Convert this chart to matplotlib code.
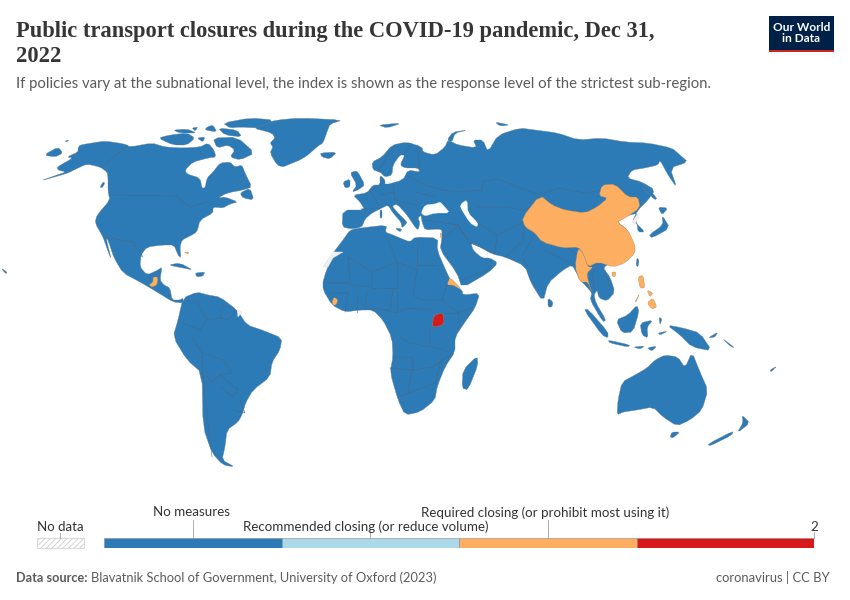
import matplotlib
matplotlib.use('Agg')
import matplotlib.pyplot as plt

plt.rcParams['font.family'] = ['Lato', 'DejaVu Sans']
plt.rcParams['hatch.linewidth'] = 0.6

# Legend
legend_labels = ['No measures', 'Recommended closing (or reduce volume)',
                 'Required closing (or prohibit most using it)', '2']
legend_colors = ['#2c7bb6', '#abd9e9', '#fdae61', '#d7191c']
legend_edges = [0, 1, 2, 3, 4]

# Outlines (x, y on the 850x600 canvas)
north_america = [(40,181),(57,175),(66,172),(58,170),(57,167),(73,158),(67,157),(78,152),(78,148),(80,145),(92,143),
    (105,141),(125,144),(130,147),(152,143),(165,147),(183,148),(200,147),(208,143),(214,150),(216,157),
    (208,158),(193,162),(185,170),(187,174),(200,178),(202,188),(205,188),(207,178),(213,172),(220,163),
    (230,162),(235,167),(242,165),(245,173),(252,187),(243,190),(227,193),(218,198),(225,197),(238,202),
    (230,204),(223,208),(213,207),(213,213),(200,220),(197,232),(190,236),(182,240),(180,247),(181,258),
    (178,255),(174,245),(163,245),(147,247),(141,255),(140,267),(147,275),(158,270),(162,267),(160,280),
    (164,285),(170,288),(172,300),(180,300),(183,298),(183,303),(173,302),(157,292),(140,282),(123,273),
    (114,258),(108,240),(106,238),(112,262),(104,240),(103,237),(95,223),(97,215),(110,200),(108,192),
    (108,177),(107,172),(100,167),(87,164),(78,168),(68,173),(58,176)]
greenland = [(253,128),(262,124),(277,120),(300,118),(343,120),(330,124),(327,132),(323,143),(318,146),(308,155),
    (300,160),(290,164),(283,167),(277,165),(270,153),(273,147),(270,143),(275,138),(272,133)]
eurasia = [(342,227),(352,229),(362,227),(365,219),(372,213),(382,208),(388,205),(393,213),(401,222),(402,228),
    (406,224),(407,222),(398,213),(392,206),(397,204),(407,215),(415,227),(418,230),(420,223),(418,218),
    (421,215),(422,222),(425,230),(438,229),(442,230),(442,238),(440,250),(457,273),(462,288),(488,273),
    (498,263),(490,258),(482,258),(473,250),(471,243),(478,246),(492,254),(505,257),(525,266),(531,283),
    (543,302),(548,283),(563,270),(572,265),(576,272),(580,280),(586,286),(592,293),(590,300),(603,322),
    (606,320),(596,303),(594,295),(597,290),(599,298),(607,301),(615,292),(610,277),(603,268),(610,263),
    (625,263),(635,250),(628,230),(617,222),(622,217),(638,213),(635,222),(645,232),(638,232),(637,223),
    (632,222),(638,210),(648,200),(655,190),(642,182),(627,178),(632,170),(645,168),(658,165),(660,160),
    (668,175),(677,188),(670,168),(688,162),(680,155),(672,148),(648,143),(625,142),(602,138),(578,140),
    (558,133),(535,130),(520,128),(498,135),(488,152),(483,140),(473,140),(477,148),(458,145),(448,140),
    (445,147),(435,155),(423,152),(422,147),(407,142),(392,145),(382,157),(372,162),(373,170),(380,172),
    (385,177),(392,175),(393,165),(400,155),(405,155),(400,165),(405,168),(418,168),(420,172),(408,170),
    (403,180),(385,185),(385,180),(380,175),(380,185),(373,185),(367,193),(353,195),(360,202),(365,210),(343,210)]
africa = [(350,230),(360,228),(387,225),(385,232),(393,235),(400,238),(410,242),(415,237),(438,238),(437,250),
    (447,273),(453,285),(462,290),(463,295),(480,293),(475,308),(465,322),(455,337),(455,352),(445,367),
    (437,387),(435,400),(420,412),(405,415),(398,400),(390,372),(393,357),(392,338),(383,320),(373,310),
    (360,310),(345,312),(332,305),(323,290),(323,280),(333,253),(343,240)]
south_america = [(183,298),(197,292),(208,295),(220,297),(237,310),(247,325),(262,330),(282,338),(280,350),(272,362),
    (270,377),(253,390),(246,402),(242,415),(238,422),(227,430),(225,447),(222,460),(235,467),(223,465),
    (212,453),(203,427),(202,373),(187,360),(173,337),(178,320)]
australia = [(617,415),(618,400),(622,382),(635,375),(647,368),(655,360),(665,355),(678,357),(685,368),(692,352),
    (700,372),(708,390),(702,410),(690,420),(677,426),(663,417),(653,407),(637,410),(623,412)]
islands = [
    [(44,155),(58,147),(63,153),(55,157)],
    [(65,141),(69,140),(67,142)],
    [(213,138),(237,137),(255,153),(240,160),(230,157),(235,150),(228,145),(217,148)],
    [(158,138),(170,135),(187,133),(195,138),(187,145),(173,145)],
    [(197,138),(205,137),(203,142)],
    [(173,130),(187,129),(197,133),(180,133)],
    [(192,128),(198,127),(195,131)],
    [(205,130),(217,132),(213,125),(207,127)],
    [(223,123),(250,118),(275,120),(257,128),(240,127),(230,128)],
    [(218,128),(237,130),(242,137),(225,135)],
    [(240,193),(250,188),(254,200),(243,198)],
    [(100,187),(103,182),(105,183),(102,188)],
    [(320,153),(337,152),(330,159),(322,157)],
    [(168,265),(180,263),(193,270),(183,268)],
    [(195,273),(205,272),(203,276),(197,277)],
    [(355,171),(358,172),(365,185),(358,190),(352,192),(357,185),(350,173)],
    [(343,182),(350,179),(350,187),(345,188)],
    [(477,356),(478,365),(468,390),(462,388),(463,370)],
    [(548,298),(553,302),(552,307),(548,307)],
    [(658,207),(668,208),(662,215)],
    [(662,215),(670,228),(652,238),(649,235),(663,225)],
    [(642,182),(657,198),(655,200),(642,187)],
    [(447,140),(453,132),(468,130),(455,133),(452,142)],
    [(378,125),(402,123),(387,128)],
    [(495,122),(510,125),(500,126)],
    [(637,258),(639,260),(638,267),(636,265)],
    [(584,310),(588,309),(608,332),(608,338),(602,335)],
    [(608,340),(630,345),(628,347),(610,343)],
    [(616,320),(628,315),(637,305),(639,312),(633,332),(622,333)],
    [(640,323),(653,320),(647,327),(648,338),(642,335)],
    [(633,347),(645,346),(640,349)],
    [(647,348),(657,346),(652,351)],
    [(658,333),(668,331),(660,335)],
    [(659,317),(662,319),(660,325)],
    [(667,325),(683,328),(700,333),(712,351),(692,347),(680,335)],
    [(708,338),(718,332),(715,337)],
    [(722,338),(735,348),(730,346)],
    [(672,432),(680,432),(673,438),(670,437)],
    [(742,415),(750,423),(737,433),(743,423)],
    [(733,431),(732,435),(710,446),(708,444)],
    [(770,370),(777,366),(771,372)],
    [(1,268),(7,272),(6,274)],
    [(380,210),(382,210),(382,218),(380,218)],
    [(395,228),(402,229),(400,232)],
]
water = [
    [(421,213),(425,205),(435,204),(440,202),(443,205),(450,213),(435,213),(425,216)],
    [(462,203),(467,200),(468,213),(478,223),(477,227),(470,223),(460,207)],
]

# Countries that are not in the "No measures" class, with their class index
china = [(522,218),(540,195),(552,205),(565,210),(585,213),(597,207),(608,198),(599,196),(602,185),(615,184),
    (628,197),(638,197),(640,208),(625,218),(617,222),(628,230),(635,245),(635,253),(625,263),(613,267),
    (598,262),(588,267),(583,253),(578,247),(563,248),(542,242),(535,233),(525,227)]
myanmar = [(578,248),(583,253),(588,267),(593,267),(587,273),(588,280),(592,293),(588,282),(580,282),(575,267)]
hainan = [(612,272),(616,272),(615,277),(612,276)]
luzon = [(638,277),(643,275),(645,288),(640,288)]
visayas = [(647,290),(653,293),(650,297)]
mindanao = [(647,303),(653,298),(657,307),(652,309)]
palawan = [(635,302),(640,293),(636,302)]
eritrea = [(447,285),(450,277),(462,290),(453,285)]
guatemala = [(149,285),(153,282),(153,277),(158,277),(157,285),(152,287)]
sierra_leone = [(332,302),(334,297),(338,300),(336,305),(333,305)]
bahamas = [(184,252),(189,252),(188,254)]
israel = [(440,233),(442,233),(441,239)]
uganda = [(434,315),(443,313),(444,323),(440,326),(432,327)]
country_shapes = [china, myanmar, hainan, luzon, visayas, mindanao, palawan, eritrea,
                  guatemala, sierra_leone, bahamas, israel, uganda]
country_class = [2, 2, 2, 2, 2, 2, 2, 2, 2, 2, 2, 2, 3]

western_sahara = [(323,267),(333,252),(343,252),(333,258),(328,267)]
north_korea = [(632,222),(638,213),(639,217),(635,224)]
french_guiana = [(237,310),(242,312),(238,317)]
no_data_shapes = [western_sahara, north_korea, french_guiana]

# Borders
borders = [
    [(112,195),(177,196),(190,207),(207,202)], [(128,145),(102,167)], [(103,237),(133,242),(143,257)],
    [(348,257),(372,272),(397,262),(387,237)], [(348,257),(350,283),(325,283)], [(372,272),(372,287),(350,285)],
    [(397,262),(397,288),(372,288)], [(418,242),(417,270),(397,262)], [(417,270),(413,295),(420,300),(443,300)],
    [(417,265),(437,265)], [(447,285),(442,300),(458,313),(473,307)], [(443,313),(458,313),(458,330)],
    [(383,310),(397,313),(407,308),(433,310)], [(400,337),(410,343),(430,347),(430,330)], [(433,347),(453,353)],
    [(390,368),(413,370),(413,358),(393,357)], [(412,370),(408,393),(398,397)], [(408,393),(435,383),(442,358)],
    [(413,370),(433,367),(453,353)], [(345,312),(348,293),(330,293)], [(357,312),(357,295)], [(365,310),(367,293)],
    [(393,290),(390,310),(370,308)], [(397,313),(397,290)],
    [(183,323),(200,330),(207,320),(197,302)], [(207,320),(220,318),(223,305)], [(192,337),(202,353),(203,373)],
    [(203,353),(223,360),(232,373),(220,375),(212,382),(203,373)], [(220,375),(238,390),(233,397),(220,387)],
    [(203,373),(207,417),(212,457)], [(233,410),(245,413),(240,400)], [(220,318),(228,320),(237,310)],
    [(425,185),(442,190),(458,192),(482,190),(483,181),(498,179),(525,190),(540,195)],
    [(540,195),(558,188),(585,193),(602,190)], [(478,207),(505,207),(522,210),(532,207)],
    [(458,225),(470,243),(495,253),(497,235),(478,223)], [(497,235),(522,223),(525,227),(522,242),(505,257)],
    [(535,233),(522,257),(528,266)], [(598,265),(592,273),(595,293)], [(605,270),(610,288)],
    [(462,280),(488,270),(492,262)], [(442,240),(458,225),(470,243)], [(425,220),(458,225)],
    [(370,190),(378,205)], [(361,209),(380,208)], [(393,184),(395,200)], [(415,192),(435,197)], [(395,200),(418,205)],
    [(378,172),(395,145)], [(403,155),(410,145)], [(420,170),(417,145)], [(408,176),(425,185)], [(380,195),(395,192)],
    [(568,248),(580,258)], [(545,250),(575,265)],
]

land_shapes = [north_america, greenland, eurasia, africa, south_america, australia] + islands


def smooth(shape, cut=0.2):
    # one pass of corner cutting so the hand-read outlines look less angular
    out = []
    for (x0, y0), (x1, y1) in zip(shape, shape[1:] + shape[:1]):
        out.append((x0 + cut * (x1 - x0), y0 + cut * (y1 - y0)))
        out.append((x1 - cut * (x1 - x0), y1 - cut * (y1 - y0)))
    return out


fig = plt.figure(figsize=(8.5, 6), dpi=100, facecolor='white')
ax = fig.add_axes([0, 0, 1, 1])
ax.set_xlim(0, 850)
ax.set_ylim(600, 0)
ax.axis('off')

land_color = legend_colors[0]
edge_color = '#6a8095'
for shape in land_shapes:
    xs, ys = zip(*smooth(shape))
    ax.fill(xs, ys, facecolor=land_color, edgecolor=edge_color, linewidth=0.25, zorder=1)
for shape in water:
    xs, ys = zip(*smooth(shape))
    ax.fill(xs, ys, facecolor='white', edgecolor='white', linewidth=0.2, zorder=2)
for line in borders:
    xs, ys = zip(*line)
    ax.plot(xs, ys, color='#48698a', linewidth=0.4, zorder=3)
for shape, cls in zip(country_shapes, country_class):
    xs, ys = zip(*smooth(shape))
    ax.fill(xs, ys, facecolor=legend_colors[cls], edgecolor='#b08a5a', linewidth=0.25, zorder=4)
for shape in no_data_shapes:
    xs, ys = zip(*shape)
    ax.fill(xs, ys, facecolor='#f0f0f0', edgecolor='#dddddd', linewidth=0.3, zorder=4)

# Header
title_color = '#363636'
grey = '#5b5b5b'
ax.text(16, 31, 'Public transport closures during the COVID-19 pandemic, Dec 31,', family='Liberation Serif',
        fontweight='bold', fontsize=16.24, color=title_color, va='center', ha='left')
ax.text(16, 57, '2022', family='Liberation Serif', fontweight='bold', fontsize=16.24,
        color=title_color, va='center', ha='left')
ax.text(16, 84, 'If policies vary at the subnational level, the index is shown as the response level of the strictest sub-region.',
        fontsize=10.75, color=grey, va='center', ha='left')

# Logo
ax.add_patch(plt.Rectangle((769, 16), 65, 36, facecolor='#002147', edgecolor='none', zorder=5))
ax.add_patch(plt.Rectangle((769, 49.5), 65, 2.5, facecolor='#ce261e', edgecolor='none', zorder=6))
ax.text(801.5, 27.5, 'Our World', color='white', fontweight='bold', fontsize=8.6, ha='center', va='center', zorder=6)
ax.text(801.5, 39, 'in Data', color='white', fontweight='bold', fontsize=8.6, ha='center', va='center', zorder=6)

# Legend bar
label_color = '#333333'
leg = fig.add_axes([104 / 850, 1 - 548 / 600, 710 / 850, 10 / 600])
leg.set_xlim(legend_edges[0], legend_edges[-1])
leg.set_ylim(0, 1)
leg.axis('off')
for i, c in enumerate(legend_colors):
    leg.barh(0.5, legend_edges[i + 1] - legend_edges[i], left=legend_edges[i], height=1,
             color=c, edgecolor='#8a8a8a', linewidth=0.4)

label_shift = [-1, -4.5, -3]
for i, label in enumerate(legend_labels[:3]):
    center = (legend_edges[i] + legend_edges[i + 1]) / 2
    px = 104 + center / legend_edges[-1] * 710
    top = 520 if i != 1 else 530
    ax.plot([px, px], [top, 538], color='#a0a0a0', linewidth=0.6, zorder=1)
    ax.text(px + label_shift[i], 512.5 if i != 1 else 527, label, fontsize=9.6, color=label_color, ha='center', va='center')
ax.plot([814, 814], [532, 538], color='#a0a0a0', linewidth=0.6)
ax.text(814, 527, legend_labels[3], fontsize=9.6, color=label_color, ha='center', va='center')

ax.text(60.5, 527, 'No data', fontsize=9.5, color=label_color, ha='center', va='center')
ax.plot([60, 60], [533, 538], color='#a0a0a0', linewidth=0.6)
ax.add_patch(plt.Rectangle((37, 538), 47, 10, facecolor='white', edgecolor='#cccccc', hatch='//////', linewidth=0.5))

# Footer
ax.text(16, 577.5, 'Data source:', fontsize=9.2, fontweight='bold', color=grey, ha='left', va='center')
ax.text(91, 577.5, 'Blavatnik School of Government, University of Oxford (2023)', fontsize=9.25, color=grey,
        ha='left', va='center')
ax.text(830, 577.5, 'coronavirus | CC BY', fontsize=9.35, color=grey, ha='right', va='center')

fig.savefig('out.png', dpi=100)
